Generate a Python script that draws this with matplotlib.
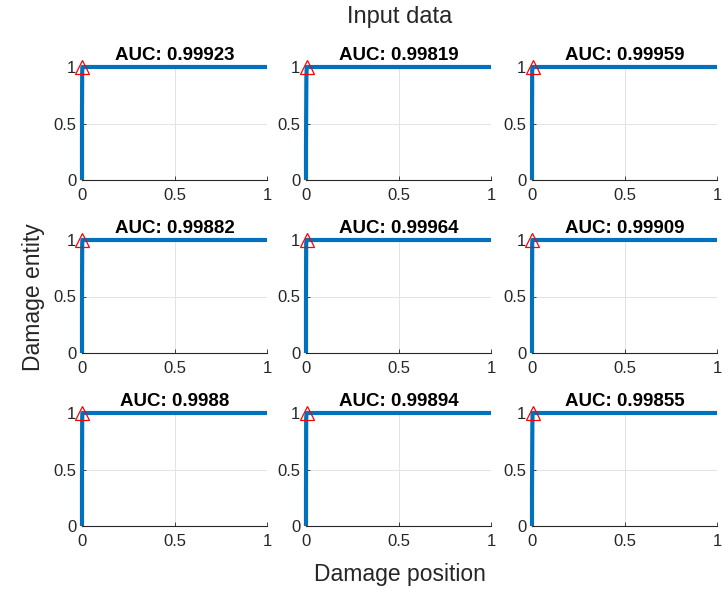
import matplotlib
matplotlib.use("Agg")
import matplotlib.pyplot as plt

plt.rcParams['font.family'] = ['Liberation Sans', 'DejaVu Sans']

auc_values = [0.99923, 0.99819, 0.99959, 0.99882, 0.99964, 0.99909, 0.9988, 0.99894, 0.99855]
auc_labels = ["0.99923", "0.99819", "0.99959", "0.99882", "0.99964", "0.99909", "0.9988", "0.99894", "0.99855"]

fpr_curves = [
    [0, 0.0, 0.001, 0.002, 1.0],
    [0, 0.0, 0.002, 0.004, 1.0],
    [0, 0.0, 0.001, 0.003, 1.0],
    [0, 0.0, 0.001, 0.002, 1.0],
    [0, 0.0, 0.001, 0.003, 1.0],
    [0, 0.0, 0.001, 0.002, 1.0],
    [0, 0.0, 0.001, 0.002, 1.0],
    [0, 0.0, 0.001, 0.003, 1.0],
    [0, 0.0, 0.002, 0.003, 1.0],
]
tpr_curves = [
    [0, 0.6, 0.95, 1.0, 1.0],
    [0, 0.3, 0.9, 1.0, 1.0],
    [0, 0.5, 0.97, 1.0, 1.0],
    [0, 0.4, 0.95, 1.0, 1.0],
    [0, 0.5, 0.97, 1.0, 1.0],
    [0, 0.4, 0.96, 1.0, 1.0],
    [0, 0.4, 0.95, 1.0, 1.0],
    [0, 0.3, 0.95, 1.0, 1.0],
    [0, 0.3, 0.9, 1.0, 1.0],
]
opt_fpr = [0.002, 0.004, 0.003, 0.002, 0.003, 0.002, 0.002, 0.003, 0.003]
opt_tpr = [1.0] * 9

W, H = 723, 590
fig = plt.figure(figsize=(W / 100, H / 100), dpi=100)

col_x = [82, 306, 532]
row_top = [67, 240, 413]
aw, ah = 185, 113

for i in range(9):
    r, c = divmod(i, 3)
    left = col_x[c] / W
    bottom = 1 - (row_top[r] + ah) / H
    ax = fig.add_axes([left, bottom, aw / W, ah / H])
    ax.plot(fpr_curves[i], tpr_curves[i], color='#0072BD', lw=3.0, solid_capstyle='butt', clip_on=False, zorder=3)
    ax.plot(opt_fpr[i], opt_tpr[i], marker='^', ms=10, mfc='none', mec='red', mew=0.9, ls='none', clip_on=False, zorder=4)
    ax.set_xlim(0, 1)
    ax.set_ylim(0, 1)
    ax.set_xticks([0, 0.5, 1])
    ax.set_xticklabels(['0', '0.5', '1'])
    ax.set_yticks([0, 0.5, 1])
    ax.set_yticklabels(['0', '0.5', '1'])
    ax.grid(True, color='#e3e3e3', lw=0.7)
    ax.set_axisbelow(True)
    for s in ['top', 'right']:
        ax.spines[s].set_visible(False)
    for s in ['left', 'bottom']:
        ax.spines[s].set_color('#262626')
        ax.spines[s].set_linewidth(0.8)
    ax.tick_params(direction='in', length=3, width=0.6, labelsize=12, colors='#262626')
    ax.tick_params(axis='x', pad=6)
    ax.tick_params(axis='y', pad=4)
    ax.set_title('AUC: ' + auc_labels[i], fontsize=13.5, fontweight='bold', pad=5)

fig.text(400 / W, 1 - 17 / H, 'Input data', ha='center', va='center', fontsize=17, color='#262626')
fig.text(400 / W, 1 - 575 / H, 'Damage position', ha='center', va='center', fontsize=16.5, color='#262626')
fig.text(34 / W, 1 - 297 / H, 'Damage entity', ha='center', va='center', rotation=90, fontsize=16.5, color='#262626')

fig.savefig('out.png', dpi=100)
